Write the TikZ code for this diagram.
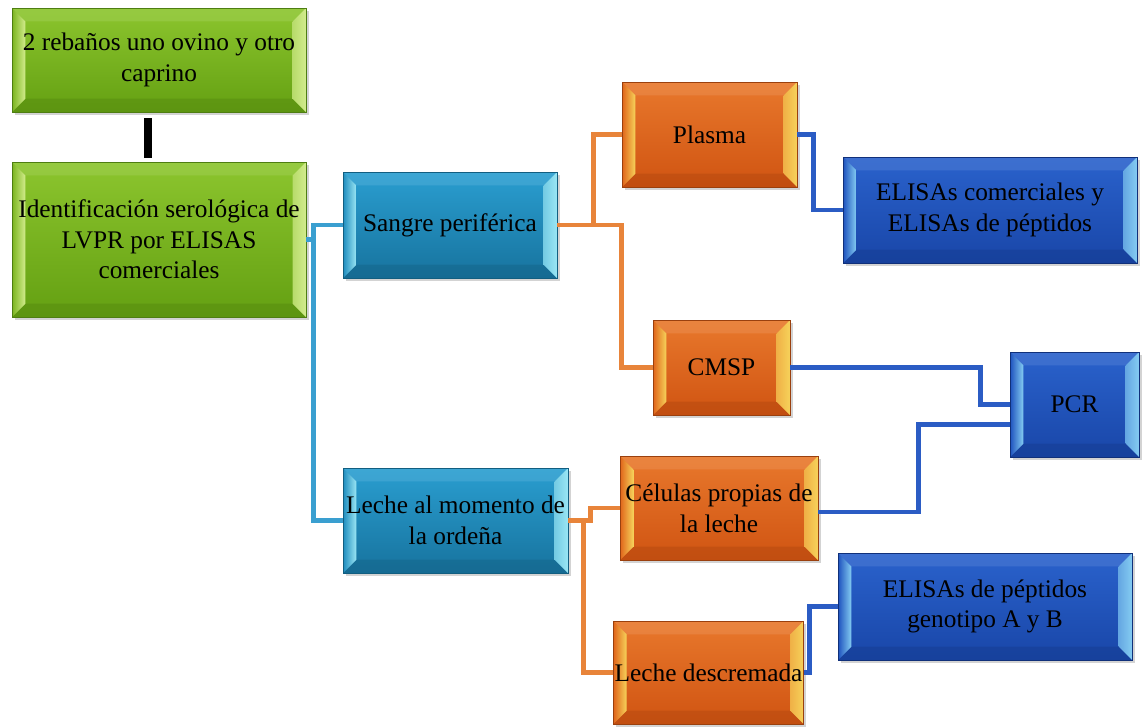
\documentclass[tikz,border=0pt]{standalone}
\usepackage{fontspec}
\setmainfont{Liberation Serif}
\usetikzlibrary{calc, shadows, positioning}
\definecolor{gbody}{HTML}{7AB41E}
\definecolor{gtop}{HTML}{8CC52E}
\definecolor{gbot}{HTML}{64A012}
\definecolor{gline}{HTML}{4E7E12}
\definecolor{glite}{HTML}{D2EC8C}
\definecolor{cbody}{HTML}{1E8CBE}
\definecolor{ctop}{HTML}{2A9ED0}
\definecolor{cbot}{HTML}{17739E}
\definecolor{cline}{HTML}{125E80}
\definecolor{clite}{HTML}{9AE6F4}
\definecolor{obody}{HTML}{E0641A}
\definecolor{otop}{HTML}{E8782C}
\definecolor{obot}{HTML}{D05412}
\definecolor{oline}{HTML}{9A400E}
\definecolor{olite}{HTML}{F6D25A}
\definecolor{bbody}{HTML}{1E52BE}
\definecolor{btop}{HTML}{2A62CC}
\definecolor{bbot}{HTML}{1946A8}
\definecolor{bline}{HTML}{10307A}
\definecolor{blite}{HTML}{84CCF2}
\definecolor{cyanwire}{HTML}{3A9FD0}
\definecolor{orangewire}{HTML}{E8843A}
\definecolor{bluewire}{HTML}{2B5CC4}
\newcommand{\boxfont}{\fontsize{19}{23}\selectfont}
\def\u{0.75pt}
\def\bw{10pt}

\begin{document}
\begin{tikzpicture}[
    x=0.75pt, y=-0.75pt,
    sbox/.style={rectangle, inner sep=1pt, align=center, font=\boxfont, text=black,
                 draw=#1line, line width=0.7pt,
                 top color=#1top, middle color=#1body, bottom color=#1bot,
                 drop shadow={shadow xshift=2pt, shadow yshift=-2.5pt, opacity=0.35},
                 path picture={
                   \coordinate (bsw) at (path picture bounding box.south west);
                   \coordinate (bse) at (path picture bounding box.south east);
                   \coordinate (bnw) at (path picture bounding box.north west);
                   \coordinate (bne) at (path picture bounding box.north east);
                   % top and bottom bevels
                   \fill[#1top!80!white, opacity=0.45] (bnw) -- (bne) -- ($(bne)+(-\bw,-\bw)$) -- ($(bnw)+(\bw,-\bw)$) -- cycle;
                   \fill[#1bot!85!black, opacity=0.45] (bsw) -- (bse) -- ($(bse)+(-\bw,\bw)$) -- ($(bsw)+(\bw,\bw)$) -- cycle;
                   % side bevels
                   \shade[left color=#1body, right color=#1lite] (bsw) -- (bnw) -- ($(bnw)+(\bw,-\bw)$) -- ($(bsw)+(\bw,\bw)$) -- cycle;
                   \shade[left color=#1lite!70!#1body, right color=#1lite] (bse) -- (bne) -- ($(bne)+(-\bw,-\bw)$) -- ($(bse)+(-\bw,\bw)$) -- cycle;
                 }},
    gbox/.style={sbox=g},
    cbox/.style={sbox=c},
    obox/.style={sbox=o},
    bbox/.style={sbox=b},
    wire/.style={line width=3.6pt},
    kwire/.style={line width=5.5pt, black},
]
\useasboundingbox (0,0) rectangle (1142,726);

% ── Column 1: herds and serology ──
\node[gbox, minimum width=294*\u, minimum height=104*\u] (rebanos) at (159,60)
    {2 rebaños uno ovino y otro\\caprino};
\node[gbox, minimum width=294*\u, minimum height=155*\u] (ident) at (159,239.5)
    {Identificación serológica de\\LVPR por ELISAS\\comerciales};

% ── Column 2: samples ──
\node[cbox, minimum width=214*\u, minimum height=106*\u] (sangre) at (450,225)
    {Sangre periférica};
\node[cbox, minimum width=225*\u, minimum height=105*\u] (lecheord) at (455.5,520.5)
    {Leche al momento de\\la ordeña};

% ── Column 3: fractions ──
\node[obox, minimum width=175*\u, minimum height=105*\u] (plasma) at (709.5,134.5)
    {Plasma};
\node[obox, minimum width=137*\u, minimum height=95*\u] (cmsp) at (721.5,367.5)
    {CMSP};
\node[obox, minimum width=198*\u, minimum height=104*\u] (celulas) at (719,508)
    {Células propias de\\la leche};
\node[obox, minimum width=189*\u, minimum height=103*\u] (descrem) at (708.5,672.5)
    {Leche descremada};

% ── Column 4: tests ──
\node[bbox, minimum width=294*\u, minimum height=106*\u] (elisacom) at (990,210)
    {ELISAs comerciales y\\ELISAs de péptidos};
\node[bbox, minimum width=129*\u, minimum height=105*\u] (pcr) at (1074.5,404.5)
    {PCR};
\node[bbox, minimum width=294*\u, minimum height=107*\u] (elisagen) at (985,606.5)
    {ELISAs de péptidos\\genotipo A y B};

% ── Connectors ──
\draw[kwire] ($(rebanos.south)+(-11,6)$) -- ($(ident.north)+(-11,-4)$);

\draw[wire, cyanwire] (ident.east) -- ++(7,0) coordinate (j1);
\draw[wire, cyanwire] (j1) |- (sangre.west);
\draw[wire, cyanwire] (j1) |- (lecheord.west);

\draw[wire, orangewire] (sangre.east) -- ++(36,0) |- (plasma.west);
\draw[wire, orangewire] (sangre.east) -- (sangre.east -| plasma.west) |- (cmsp.west);
\draw[wire, orangewire] (lecheord.east) -- ++(22,0) |- (celulas.west);
\draw[wire, orangewire] (lecheord.east) -- ++(15,0) |- (descrem.west);

\draw[wire, bluewire] (plasma.east) -- ++(16,0) |- (elisacom.west);
\draw[wire, bluewire] (cmsp.east) -- ++(190,0) |- (pcr.west);
\draw[wire, bluewire] ($(celulas.east)+(0,4)$) -- ++(100,0) |- ($(pcr.west)+(0,20)$);
\draw[wire, bluewire] (descrem.east) -- ++(5,0) |- (elisagen.west);

\end{tikzpicture}
\end{document}
